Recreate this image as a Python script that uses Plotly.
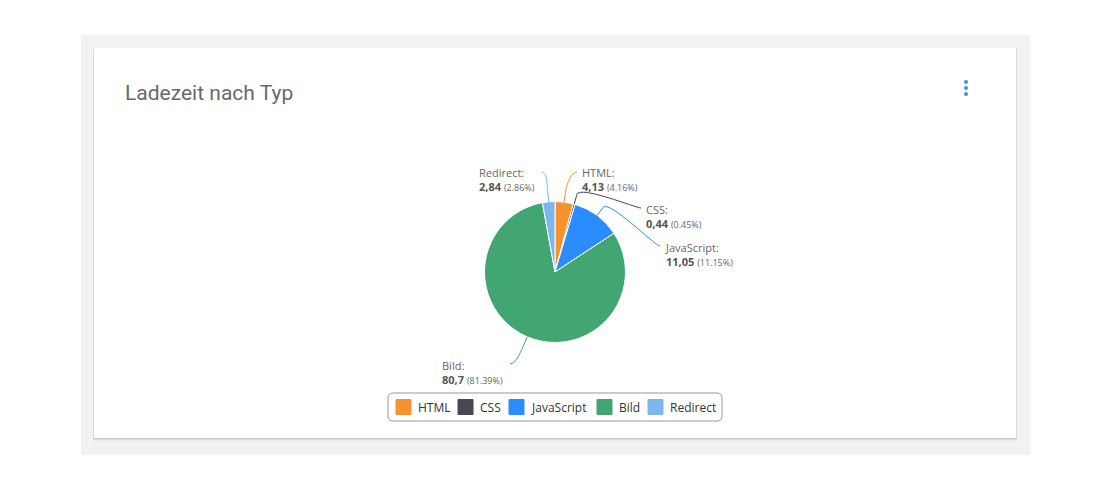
import math
import plotly.graph_objects as go

W, H = 1111, 491

# Ladezeit nach Typ
types = ["HTML", "CSS", "JavaScript", "Bild", "Redirect"]
load_times = [4.13, 0.44, 11.05, 80.7, 2.84]
shares = [4.16, 0.45, 11.15, 81.39, 2.86]
colors = ["#f7932f", "#48484f", "#2a8cff", "#41a672", "#7cb6ec"]

# where each data label sits (pixels): connector end, text side
label_anchor = [(577, 172), (641, 208), (660, 246), (510, 364), (542, 172)]
label_side = ["left", "left", "left", "right", "right"]

# hand-placed legend entries (pixel x of the swatch)
legend_x = [396, 458, 509, 597, 648]

cx, cy, r = 555, 272, 70.5


def px(x):
    return x / W


def py(y):
    return 1 - y / H


fig = go.Figure()
fig.add_trace(go.Pie(
    labels=types, values=load_times, sort=False, direction="clockwise", rotation=0,
    marker=dict(colors=colors, line=dict(color="white", width=1)),
    textinfo="none", hoverinfo="label+value+percent", showlegend=False,
    domain=dict(x=[px(cx - r), px(cx + r)], y=[py(cy + r), py(cy - r)]),
))

shapes = []
annotations = []

# page background, card shadow and card
shapes.append(dict(type="rect", xref="paper", yref="paper", x0=px(81), x1=px(1030), y0=py(455), y1=py(35),
                   fillcolor="#f2f2f2", line_width=0, layer="below"))
for off, op in [(3, 0.03), (2, 0.06), (1, 0.09)]:
    shapes.append(dict(type="rect", xref="paper", yref="paper", x0=px(94 - off / 3), x1=px(1016 + off / 3),
                       y0=py(438 + off), y1=py(49), fillcolor="rgba(0,0,0,%s)" % op, line_width=0, layer="below"))
shapes.append(dict(type="rect", xref="paper", yref="paper", x0=px(94), x1=px(1016), y0=py(438), y1=py(48),
                   fillcolor="white", line_width=0, layer="below"))

# menu dots
for dy in [82, 88, 94]:
    shapes.append(dict(type="circle", xref="paper", yref="paper", x0=px(964), x1=px(968), y0=py(dy + 2), y1=py(dy - 2),
                       fillcolor="#4a90d6", line_width=0))

annotations.append(dict(text="Ladezeit nach Typ", x=px(123), y=py(93), xref="paper", yref="paper",
                        xanchor="left", yanchor="middle", showarrow=False,
                        font=dict(family="Roboto", size=21, color="#666a6e")))

# connectors + data labels
total = sum(load_times)
cum = 0
for i, v in enumerate(load_times):
    mid = (cum + v / 2) / total * 2 * math.pi
    cum += v
    dx, dy = math.sin(mid), -math.cos(mid)
    tx, ty = cx + r * dx, cy + r * dy
    bx, by = cx + (r + 10) * dx, cy + (r + 10) * dy
    c2x, c2y = 2 * bx - tx, 2 * by - ty
    lx, ly = label_anchor[i]
    c1x = lx - 5 if label_side[i] == "left" else lx + 5
    path = "M %f %f C %f %f %f %f %f %f L %f %f" % (
        px(lx), py(ly), px(c1x), py(ly), px(c2x), py(c2y), px(bx), py(by), px(tx), py(ty))
    shapes.append(dict(type="path", xref="paper", yref="paper", path=path,
                       line=dict(color=colors[i], width=1)))
    txt = ("%s:<br><b><span style='color:#555'>%s</span></b> <span style='font-size:9px'>(%.2f%%)</span>"
           % (types[i], str(v).replace(".", ","), shares[i]))
    if label_side[i] == "left":
        ax, anch = lx + 4, "left"
    else:
        ax, anch = lx - 6, "right"
    annotations.append(dict(text=txt, x=px(ax), y=py(ly - 7.5), xref="paper", yref="paper",
                            xanchor=anch, yanchor="top", align="left", showarrow=False, borderpad=0,
                            font=dict(family="Open Sans", size=11, color="#666")))

# legend box
x0, x1, y0, y1, rr = 388, 722, 393, 421, 5
shapes.append(dict(type="path", xref="paper", yref="paper", line=dict(color="#999", width=1),
                   path="M %f %f L %f %f Q %f %f %f %f L %f %f Q %f %f %f %f L %f %f Q %f %f %f %f L %f %f Q %f %f %f %f Z" % (
                       px(x0 + rr), py(y0), px(x1 - rr), py(y0), px(x1), py(y0), px(x1), py(y0 + rr),
                       px(x1), py(y1 - rr), px(x1), py(y1), px(x1 - rr), py(y1),
                       px(x0 + rr), py(y1), px(x0), py(y1), px(x0), py(y1 - rr),
                       px(x0), py(y0 + rr), px(x0), py(y0), px(x0 + rr), py(y0))))
for i, name in enumerate(types):
    lx = legend_x[i]
    shapes.append(dict(type="rect", xref="paper", yref="paper", x0=px(lx), x1=px(lx + 15), y0=py(414.5), y1=py(399.5),
                       fillcolor=colors[i], line=dict(color=colors[i], width=1)))
    annotations.append(dict(text=name, x=px(lx + 20), y=py(407), xref="paper", yref="paper",
                            xanchor="left", yanchor="middle", showarrow=False,
                            font=dict(family="Open Sans", size=12, color="#333")))

fig.update_layout(
    width=W, height=H, margin=dict(l=0, r=0, t=0, b=0),
    paper_bgcolor="white", plot_bgcolor="white",
    shapes=shapes, annotations=annotations, showlegend=False,
)

fig.write_html("out.html", config={"displayModeBar": False},
               post_script="document.body.style.margin='0';")
